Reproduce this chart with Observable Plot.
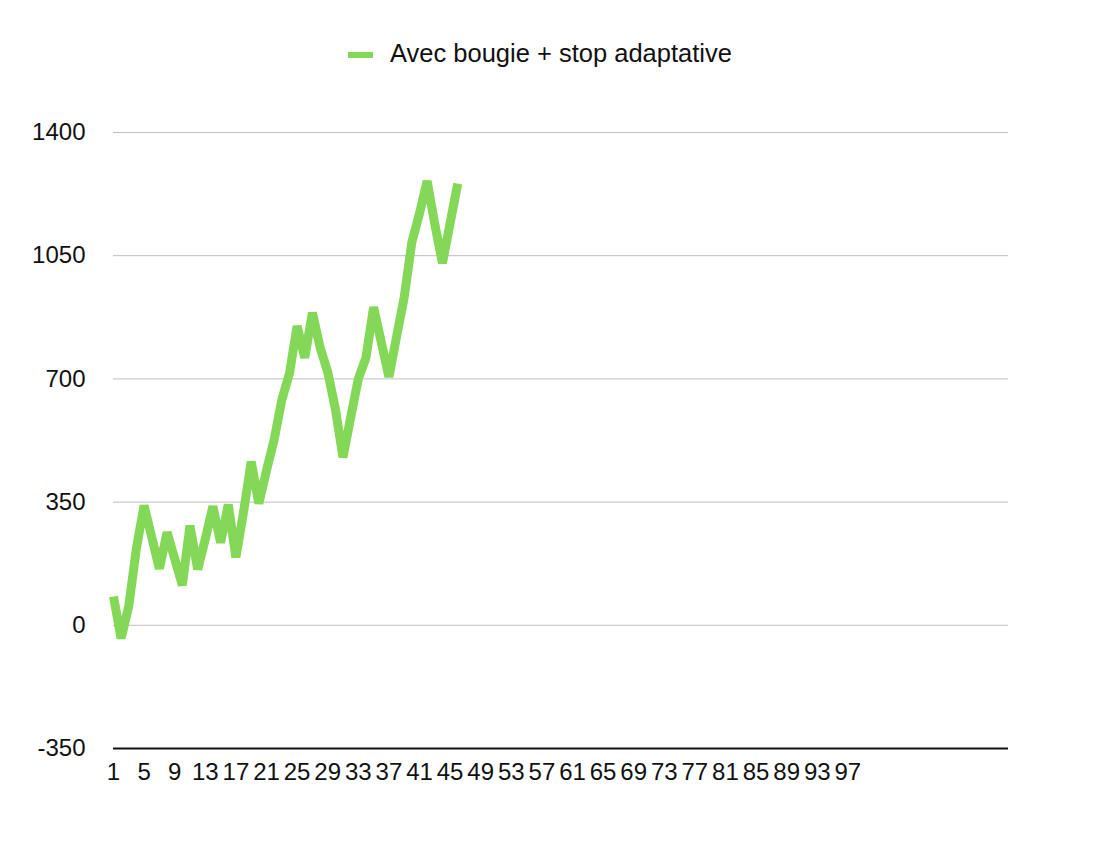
<!DOCTYPE html>
<html>
<head>
<meta charset="utf-8">
<script src="https://cdn.jsdelivr.net/npm/d3@7"></script>
<script src="https://cdn.jsdelivr.net/npm/@observablehq/plot@0.6"></script>
<style>
  html, body { margin: 0; padding: 0; background: #fff; }
  body { width: 1102px; font-family: "Liberation Sans", Arial, Helvetica, sans-serif; }
  #legend { position: relative; height: 100px; }
  #legend .sw { position: absolute; left: 348px; top: 52px; width: 25px; height: 6px; background: #84d858; }
  #legend .lb { position: absolute; left: 390px; top: 39px; font-size: 25.5px; color: #111; white-space: nowrap; }
</style>
</head>
<body>
<div id="legend"><div class="sw"></div><div class="lb">Avec bougie + stop adaptative</div></div>
<div id="chart"></div>
<script>
const seriesName = "Avec bougie + stop adaptative";
const values = [82, -37, 55, 220, 340, 250, 161, 264, 189, 114, 283, 159, 245, 338, 235, 343, 193, 322, 465, 346, 440, 527, 640, 715, 850, 760, 888, 790, 720, 615, 477, 590, 700, 760, 904, 805, 706, 819, 932, 1088, 1170, 1262, 1140, 1029, 1142, 1255];
const xTicks = [1, 5, 9, 13, 17, 21, 25, 29, 33, 37, 41, 45, 49, 53, 57, 61, 65, 69, 73, 77, 81, 85, 89, 93, 97];
const yTicks = [-350, 0, 350, 700, 1050, 1400];
const xDomain = [1, 118];

const data = values.map((v, i) => ({cat: i + 1, value: v}));

const chart = Plot.plot({
  width: 1102,
  height: 708,
  marginLeft: 113,
  marginRight: 94,
  marginTop: 32,
  marginBottom: 60,
  style: {fontFamily: "'Liberation Sans', Arial, Helvetica, sans-serif", fontSize: "24px", color: "#111", background: "#fff"},
  x: {domain: xDomain, ticks: xTicks, tickSize: 0, tickPadding: 14, tickFormat: d => String(d), label: null},
  y: {domain: [-350, 1400], ticks: yTicks, tickSize: 0, tickPadding: 28, tickFormat: d => String(d), label: null},
  marks: [
    Plot.ruleY(yTicks.filter(d => d > -350), {stroke: "#bdbdbd", strokeWidth: 1}),
    Plot.axisX({ticks: xTicks, tickSize: 0, tickPadding: 14, tickFormat: d => String(d), fontSize: 24}),
    Plot.axisY({ticks: yTicks, tickSize: 0, tickPadding: 28, tickFormat: d => String(d), fontSize: 24}),
    Plot.ruleY([-350], {stroke: "#111", strokeWidth: 2}),
    Plot.line(data, {x: "cat", y: "value", stroke: "#84d858", strokeWidth: 9, strokeLinejoin: "miter", strokeMiterlimit: 4, strokeLinecap: "butt"})
  ]
});
document.getElementById("chart").appendChild(chart);
</script>
</body>
</html>
